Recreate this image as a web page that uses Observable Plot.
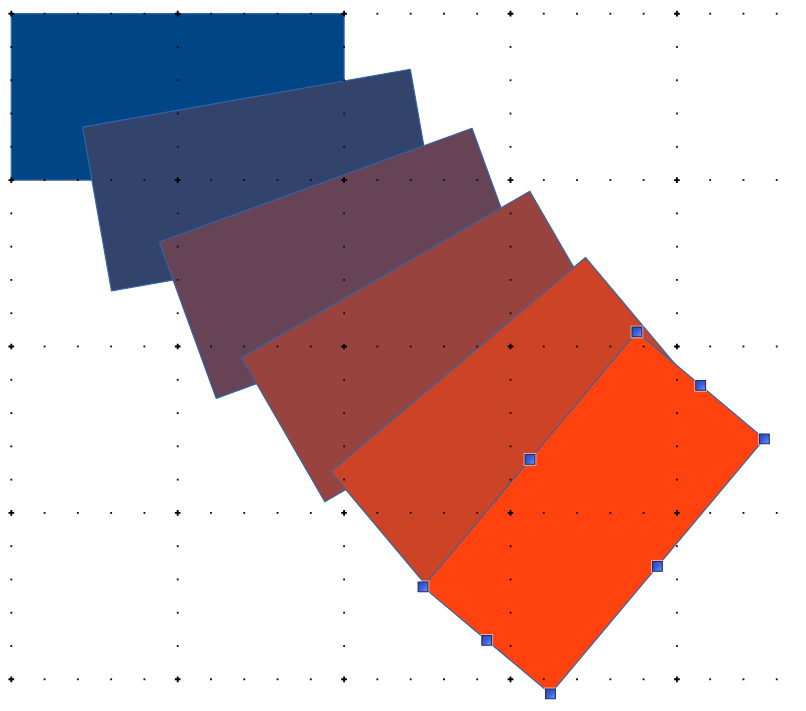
<!DOCTYPE html>
<html><head><meta charset="utf-8">
<script src="https://cdn.jsdelivr.net/npm/d3@7"></script>
<script src="https://cdn.jsdelivr.net/npm/@observablehq/plot@0.6"></script>
<style>html,body{margin:0;padding:0;background:#fff}</style>
</head><body><div id="chart"></div>
<script>
// Shapes: same 2x1 rectangle, shifted and rotated step by step (grid units)
const shapeNames = ["Rectangle 1", "Rectangle 2", "Rectangle 3", "Rectangle 4", "Rectangle 5", "Rectangle 6"];
const centerX = [1.0, 1.5, 2.0, 2.5, 3.006, 3.5];
const centerY = [0.5, 1.0, 1.5, 2.0, 2.491, 3.0];
const angles = [0, 10, 20, 30, 40, 50];
const fills = ["#004586", "#33446c", "#664455", "#99433e", "#cc4326", "#ff420e"];
const rectW = 2, rectH = 1;
const selectedShape = 5;

// Grid: major lines every unit, dots every 0.2 unit
const majorX = [0, 1, 2, 3, 4];
const majorY = [0, 1, 2, 3, 4];
const minorStep = 0.2;
const xDotCount = 24; // 0 .. 4.6
const yDotCount = 21; // 0 .. 4.0

function cornersOf(i) {
  const t = angles[i] * Math.PI / 180, c = Math.cos(t), s = Math.sin(t);
  const local = [[-rectW/2, -rectH/2], [rectW/2, -rectH/2], [rectW/2, rectH/2], [-rectW/2, rectH/2]];
  return local.map(([lx, ly]) => [centerX[i] + lx*c + ly*s, centerY[i] - lx*s + ly*c]);
}

const polys = shapeNames.map((name, i) => cornersOf(i).map(([x, y], j) => ({name, j, x, y})));

// grid points
const crosses = majorX.flatMap(x => majorY.map(y => ({x, y})));
const minorDots = [];
for (const y of majorY) for (let k = 0; k < xDotCount; k++) if (k % 5) minorDots.push({x: k*minorStep, y});
for (const x of majorX) for (let k = 0; k < yDotCount; k++) if (k % 5) minorDots.push({x, y: k*minorStep});

// selection handles of the selected shape: corners and edge midpoints
const sc = cornersOf(selectedShape);
const handles = [];
sc.forEach((p, j) => {
  const q = sc[(j + 1) % 4];
  handles.push({x: p[0], y: p[1]});
  handles.push({x: (p[0] + q[0]) / 2, y: (p[1] + q[1]) / 2});
});

const W = 806, H = 711, px = 166.4, ox = 10.8, oy = 13.2;

const defsMark = () => {
  const defs = d3.create("svg:defs");
  const g = defs.append("linearGradient").attr("id", "hg")
    .attr("x1", "0").attr("y1", "0").attr("x2", "1").attr("y2", "1");
  g.append("stop").attr("offset", "0").attr("stop-color", "#2a45b8");
  g.append("stop").attr("offset", "0.5").attr("stop-color", "#3a5fd6");
  g.append("stop").attr("offset", "1").attr("stop-color", "#6e9cff");
  return defs.node();
};

const chart = Plot.plot({
  width: W, height: H,
  margin: 0,
  style: {background: "#fff"},
  x: {domain: [-ox/px, (W - ox)/px], range: [0, W], axis: null},
  y: {domain: [-oy/px, (H - oy)/px], range: [0, H], axis: null},
  marks: [
    defsMark,
    ...polys.map((pts, i) => Plot.line(pts, {
      x: "x", y: "y", curve: "linear-closed",
      fill: fills[i], stroke: "#3465a4", strokeWidth: 1.2
    })),
    Plot.dot(minorDots, {x: "x", y: "y", symbol: "square", r: 1.05, fill: "#111", stroke: null}),
    Plot.dot(crosses, {x: "x", y: "y", symbol: "cross", r: 2.4, fill: "#000", stroke: null}),
    Plot.dot(handles, {x: "x", y: "y", symbol: "square", r: 7.2, fill: "#fff", fillOpacity: 0.55, stroke: null}),
    Plot.dot(handles, {x: "x", y: "y", symbol: "square", r: 5.5, fill: "url(#hg)", stroke: "#1b2a6b", strokeWidth: 1.1})
  ]
});
document.getElementById("chart").append(chart);
</script>
</body></html>
